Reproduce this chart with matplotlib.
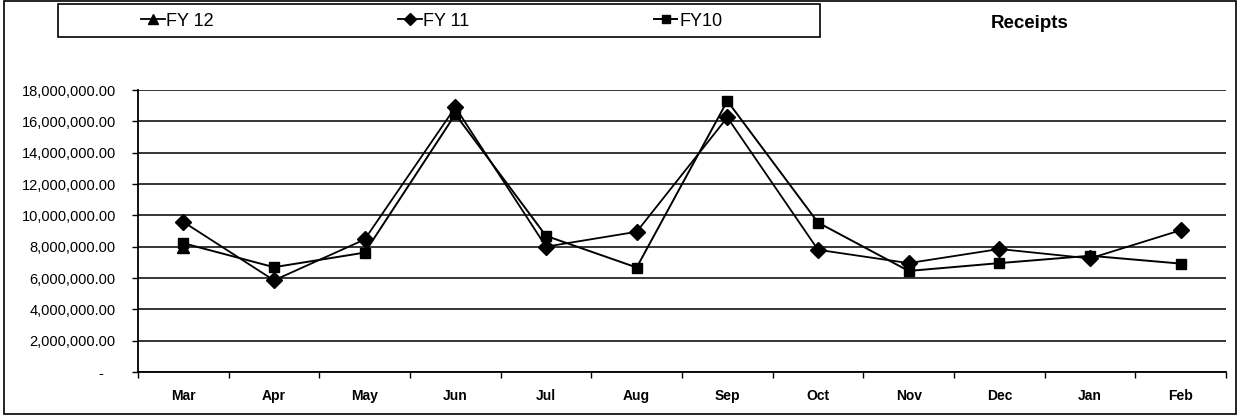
import numpy as np
import matplotlib.pyplot as plt
from matplotlib.patches import Rectangle
from matplotlib.ticker import FuncFormatter

plt.rcParams['font.family'] = ['Liberation Sans', 'DejaVu Sans']

# Data
months = ['Mar', 'Apr', 'May', 'Jun', 'Jul', 'Aug', 'Sep', 'Oct', 'Nov', 'Dec', 'Jan', 'Feb']
fy12 = [8000000]  # only March reported
fy11 = [9580000, 5850000, 8460000, 16900000, 8000000, 8950000,
        16250000, 7800000, 6950000, 7850000, 7250000, 9050000]
fy10 = [8220000, 6690000, 7620000, 16450000, 8690000, 6670000,
        17300000, 9540000, 6450000, 6950000, 7420000, 6920000]

fig = plt.figure(figsize=(12.4, 4.19), dpi=100)
ax = fig.add_axes([138/1240, 1 - 372/419, 1088/1240, 282/419])

x = np.arange(len(months))
ax.plot(x[:len(fy12)], fy12, '-^', color='black', lw=1.3, ms=9, label='FY 12')
ax.plot(x, fy11, '-D', color='black', lw=1.3, ms=8, label='FY 11')
ax.plot(x, fy10, '-s', color='black', lw=1.4, ms=7, label='FY10')

ax.set_xlim(-0.5, 11.5)
ax.set_ylim(0, 18000000)
ax.set_yticks(np.arange(0, 18000001, 2000000))
ax.yaxis.set_major_formatter(FuncFormatter(lambda v, p: '-' + ' ' * 3 if v == 0 else f'{v:,.2f}'))
ax.grid(axis='y', color='black', lw=1.1)
ax.set_axisbelow(True)

# ticks at category boundaries, labels centred
ax.set_xticks(np.arange(13) - 0.5)
ax.set_xticklabels([])
ax.set_xticks(x, minor=True)
ax.set_xticklabels(months, minor=True, fontweight='bold', fontsize=10)
ax.tick_params(axis='x', which='minor', length=0, pad=12)
ax.tick_params(axis='x', which='major', length=4, width=1, direction='out')
ax.tick_params(axis='y', length=4, width=1, direction='out', labelsize=10.5, pad=12)

for s in ['top', 'right']:
    ax.spines[s].set_visible(False)
ax.spines['left'].set_linewidth(1.3)
ax.spines['bottom'].set_linewidth(1.3)

# outer frame and legend box
fig.patches.append(Rectangle((4/1240, 5/419), 1232/1240, 413/419, transform=fig.transFigure,
                             fill=False, ec='black', lw=1.2))
fig.patches.append(Rectangle((58/1240, 1 - 37/419), 762/1240, 33/419, transform=fig.transFigure,
                             fill=False, ec='black', lw=1.2))
fig.legend(loc='center left', bbox_to_anchor=(132/1240, 1 - 21/419), ncol=3, frameon=False,
           fontsize=13, handlelength=1.3, handletextpad=0.1, borderpad=0,
           columnspacing=10.2, markerscale=0.8)

fig.text(1030/1240, 1 - 24/419, 'Receipts', ha='center', va='center',
         fontsize=13.5, fontweight='bold')

fig.savefig('out.png', dpi=100)
